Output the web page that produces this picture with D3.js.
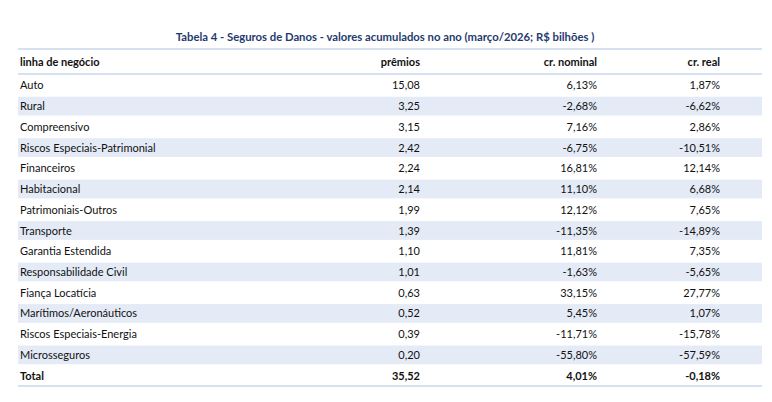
<!DOCTYPE html><html><head><meta charset="utf-8"><script src="https://cdn.jsdelivr.net/npm/d3@7"></script>
<style>body{margin:0;background:#fff}</style></head><body><svg id="c" width="772" height="402"></svg>
<script>
const lines=["Auto","Rural","Compreensivo","Riscos Especiais-Patrimonial","Financeiros","Habitacional","Patrimoniais-Outros","Transporte","Garantia Estendida","Responsabilidade Civil","Fiança Locatícia","Marítimos/Aeronáuticos","Riscos Especiais-Energia","Microsseguros","Total"];
const premios=["15,08","3,25","3,15","2,42","2,24","2,14","1,99","1,39","1,10","1,01","0,63","0,52","0,39","0,20","35,52"];
const nominal=["6,13%","-2,68%","7,16%","-6,75%","16,81%","11,10%","12,12%","-11,35%","11,81%","-1,63%","33,15%","5,45%","-11,71%","-55,80%","4,01%"];
const real=["1,87%","-6,62%","2,86%","-10,51%","12,14%","6,68%","7,65%","-14,89%","7,35%","-5,65%","27,77%","1,07%","-15,78%","-57,59%","-0,18%"];
const headers=["linha de negócio","prêmios","cr. nominal","cr. real"];
const svg=d3.select("#c"),F="Lato, 'Open Sans', sans-serif";
const y=d3.scaleBand().domain(d3.range(lines.length)).range([75,386]);
const step=y.step();
svg.append("text").attr("x",385).attr("y",41).attr("text-anchor","middle").attr("font-family",F).attr("font-weight",700).attr("font-size",11.3).attr("fill","#1f3a6e").text("Tabela 4 - Seguros de Danos - valores acumulados no ano (março/2026; R$ bilhões )");
svg.append("line").attr("x1",18).attr("x2",762).attr("y1",49).attr("y2",49).attr("stroke","#c9d8ea").attr("stroke-width",1.5);
const hx=[20,420,597,720],anc=["start","end","end","end"];
headers.forEach((h,i)=>svg.append("text").attr("x",hx[i]).attr("y",66).attr("text-anchor",anc[i]).attr("font-family",F).attr("font-weight",700).attr("font-size",11).attr("fill","#111").text(h));
svg.append("line").attr("x1",18).attr("x2",762).attr("y1",74).attr("y2",74).attr("stroke","#c9d8ea").attr("stroke-width",1.5);
lines.forEach((l,i)=>{
  const top=y(i);
  if(i%2==1) svg.append("rect").attr("x",18).attr("y",top+1).attr("width",744).attr("height",step-2).attr("fill","#e4ebf6");
  const vals=[l,premios[i],nominal[i],real[i]];
  vals.forEach((v,j)=>svg.append("text").attr("x",hx[j]).attr("y",top+step/2+4).attr("text-anchor",anc[j]).attr("font-family",F).attr("font-size",11).attr("font-weight",i==lines.length-1?700:400).attr("fill","#111").text(v));
});
svg.append("line").attr("x1",18).attr("x2",762).attr("y1",386).attr("y2",386).attr("stroke","#c9d8ea").attr("stroke-width",1.5);
</script></body></html>
